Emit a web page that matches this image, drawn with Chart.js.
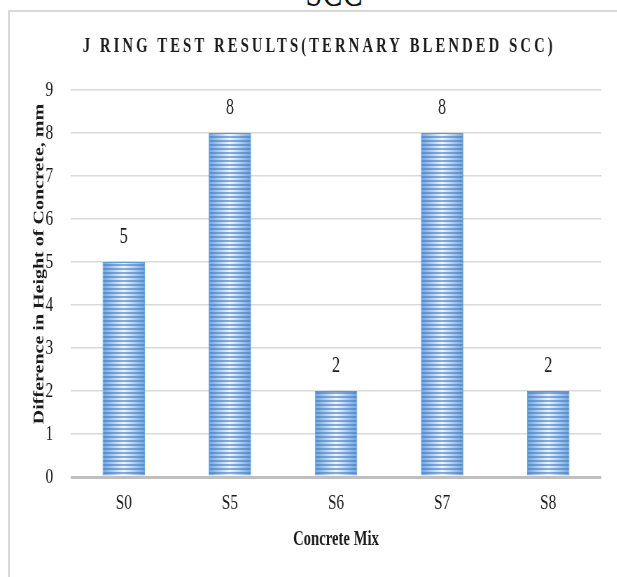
<!DOCTYPE html>
<html>
<head>
<meta charset="utf-8">
<script src="https://cdn.jsdelivr.net/npm/chart.js@4.4.1/dist/chart.umd.min.js"></script>
<style>
  html, body { margin: 0; padding: 0; background: #fff; overflow: hidden; width: 617px; height: 577px; }
  #stage { position: relative; width: 617px; height: 577px; overflow: hidden; background: #fff; }
  .rule { position: absolute; background: #d9d9d9; }
  #ruleTop { left: 8px; top: 10px; width: 609px; height: 2px; }
  #ruleLeft { left: 8px; top: 10px; width: 2px; height: 567px; }
  #margin { position: absolute; left: 604px; top: 12px; width: 13px; height: 565px; background: #fff; z-index: 5; }
  #heading { position: absolute; left: 334px; top: -28px; font: 42px 'Liberation Serif', serif;
             line-height: 40px; color: #111; white-space: nowrap;
             transform: translateX(-50%) scaleX(0.72); }
  #wrap { position: absolute; left: 0; top: 0; width: 881px; height: 577px;
          transform: scaleX(0.7); transform-origin: 0 0; }
</style>
</head>
<body>
<div id="stage">
  <div class="rule" id="ruleTop"></div>
  <div class="rule" id="ruleLeft"></div>
  <div id="heading">SCC</div>
  <div id="wrap"><canvas id="c" width="881" height="577"></canvas></div>
  <div id="margin"></div>
</div>
<script>
// J ring test: difference in concrete height per mix
const mixes = ['S0', 'S5', 'S6', 'S7', 'S8'];
const heightDiff = [5, 8, 2, 8, 2];
const yTicks = [0, 1, 2, 3, 4, 5, 6, 7, 8, 9];

const chartTitle = 'J RING TEST RESULTS(TERNARY BLENDED SCC)';
const yTitle = 'Difference in Height of Concrete, mm';
const xTitle = 'Concrete Mix';

const SERIF = "'Liberation Serif', 'Times New Roman', serif";
const TEXT = '#1c1c1c';

// horizontal stripe texture laid over each bar
const stripeCanvas = document.createElement('canvas');
stripeCanvas.width = 4; stripeCanvas.height = 4;
const sctx = stripeCanvas.getContext('2d');
sctx.fillStyle = 'rgba(66,126,198,0.62)';
sctx.fillRect(0, 0, 4, 2);

const canvas = document.getElementById('c');
const stripes = canvas.getContext('2d').createPattern(stripeCanvas, 'repeat');

// gradient across each bar: darker edges, pale centre
function barFill(c) {
  const chart = c.chart;
  if (!chart.chartArea) return '#9fc3ea';
  const xs = chart.scales.x;
  const cx = xs.getPixelForValue(c.dataIndex);
  const w = xs.width / mixes.length * 0.4;
  const g = chart.ctx.createLinearGradient(cx - w / 2, 0, cx + w / 2, 0);
  g.addColorStop(0, '#72a6de');
  g.addColorStop(0.5, '#f2f7fc');
  g.addColorStop(1, '#72a6de');
  return g;
}

const decor = {
  id: 'decor',
  afterDatasetsDraw(chart) {
    const ctx = chart.ctx;
    const meta = chart.getDatasetMeta(0);
    ctx.save();
    meta.data.forEach((bar, i) => {
      const p = bar.getProps(['x', 'y', 'base', 'width'], true);
      ctx.fillStyle = stripes;
      ctx.fillRect(p.x - p.width / 2 + 1, p.y + 1, p.width - 2, p.base - p.y - 1);
      ctx.fillStyle = TEXT;
      ctx.font = '23px ' + SERIF;
      ctx.textAlign = 'center';
      ctx.textBaseline = 'middle';
      ctx.fillText(String(heightDiff[i]), p.x, p.y - 25);
    });
    ctx.restore();
  },
  afterDraw(chart) {
    const ctx = chart.ctx;
    ctx.save();
    ctx.fillStyle = TEXT;
    ctx.textAlign = 'center';
    ctx.textBaseline = 'middle';
    ctx.font = 'bold 21px ' + SERIF;
    ctx.letterSpacing = '4.4px';
    ctx.fillText(chartTitle, 456, 47);
    ctx.letterSpacing = '0px';
    ctx.translate(57, 264);
    ctx.rotate(-Math.PI / 2);
    ctx.font = 'bold 20px ' + SERIF;
    ctx.fillText(yTitle, 0, 0);
    ctx.restore();
  }
};

new Chart(canvas, {
  type: 'bar',
  data: {
    labels: mixes,
    datasets: [{
      data: heightDiff,
      backgroundColor: barFill,
      borderColor: '#5b9bd5',
      borderWidth: 1,
      categoryPercentage: 1,
      barPercentage: 0.4
    }]
  },
  options: {
    responsive: false,
    animation: false,
    devicePixelRatio: 1,
    events: [],
    layout: { padding: { top: 90, right: 22, left: 0, bottom: 0 } },
    plugins: { legend: { display: false }, tooltip: { enabled: false }, title: { display: false } },
    scales: {
      x: {
        grid: { display: false },
        border: { display: false },
        ticks: { color: TEXT, font: { family: SERIF, size: 22 }, padding: 5 },
        title: { display: true, text: xTitle, color: TEXT,
                 font: { family: SERIF, size: 21, weight: 'bold' }, padding: { top: 0, bottom: 25 } },
        afterFit(s) { s.height = 100; }
      },
      y: {
        min: 0, max: 9,
        afterBuildTicks(s) { s.ticks = yTicks.map(v => ({ value: v })); },
        grid: {
          drawTicks: false,
          color: c => c.tick.value === 0 ? '#bfbfbf' : '#d9d9d9',
          lineWidth: c => c.tick.value === 0 ? 3 : 1.5
        },
        border: { display: false },
        ticks: { color: TEXT, font: { family: SERIF, size: 22 }, padding: 25 },
        afterFit(s) { s.width = 101; }
      }
    }
  },
  plugins: [decor]
});
</script>
</body>
</html>
